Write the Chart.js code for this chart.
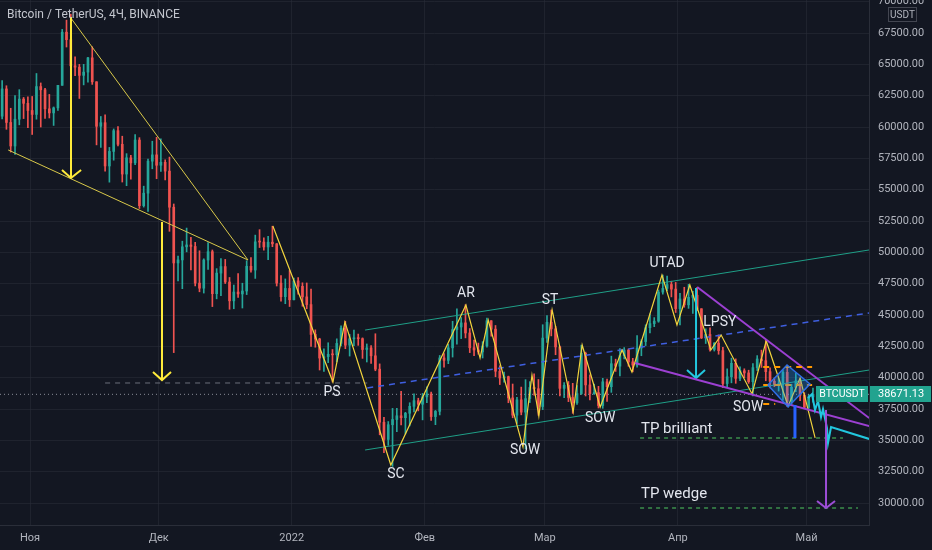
<!DOCTYPE html>
<html><head><meta charset="utf-8">
<script src="https://cdn.jsdelivr.net/npm/chart.js@4.4.1/dist/chart.umd.min.js"></script>
<style>html,body{margin:0;padding:0;background:#131722;overflow:hidden}#wrap{width:932px;height:550px;position:relative}</style>
</head><body><div id="wrap"><canvas id="c"></canvas></div>
<script>
// ---------- DATA (daily candles, BTCUSDT) ----------
const firstDate = '2021-10-25';
const opens = [60861,63039,60363,58483,60622,62227,61889,
61318,61004,63226,62970,61452,61125,61527,63326,67566,66971,64882,64774,64122,64380,65519,63606,60058,60344,56891,58052,59707,58622,56247,57541,57138,58960,53726,54721,57274,57776,
56950,57184,56480,53601,49152,49396,50441,50588,50471,47545,47140,49389,50053,46702,48343,48864,47632,46131,46834,46681,46914,48889,48588,50838,50821,50429,50810,50679,47543,46464,47120,
46216,47722,47286,46446,45833,43451,43082,41566,41680,41864,41822,42735,43949,42591,43099,43177,43113,42250,42375,41744,40680,36445,35071,36244,36660,36958,36809,37160,37716,38166,37881,
38466,38694,36896,37311,41574,41382,42380,43839,44042,44372,43566,42388,42210,42054,42535,44544,43873,40515,39974,40079,38386,37008,38230,37250,38328,39219,39116,37699,
43160,44421,43892,42454,39148,39397,38420,37988,38730,41941,39422,38730,38807,37777,39671,39280,41114,40917,41757,42201,41262,41002,42364,42882,43991,44313,44511,46827,47122,47434,47067,
45510,46283,45811,46407,46580,45497,43170,43444,42252,42753,42158,39530,40074,41147,39942,40552,40378,39678,40801,41493,41358,40480,39709,39441,39450,40427,38112,39235,39742,38596,
37630,38468];
const highs = [63710,63293,61496,62499,62980,62359,62405,
62437,64270,63516,63086,62599,61600,63286,67789,68530,69000,65600,65000,65000,65550,66401,63617,60840,60976,58373,59846,60029,59266,57875,57735,59398,59150,55280,57445,58865,59176,
59053,57375,57600,53859,49699,50891,51936,51200,50797,50125,49485,50777,50189,48700,49500,49436,47995,47392,48300,47537,49328,49576,51375,51810,51156,51280,52088,50704,48139,47879,48548,
47954,47990,47570,47557,47070,43816,43145,42300,42786,42248,43100,44135,44500,43448,43800,43479,43176,42691,42559,43505,41100,36835,36499,37550,37545,38919,37234,38000,38720,38359,38744,
39265,38855,37387,41772,41913,42656,44500,45492,44799,45821,43920,43000,42760,42876,44751,44549,44164,40959,40444,40125,39494,38429,39249,39843,39683,40300,39855,44225,
44949,45400,44101,42527,39613,39693,39547,39362,42594,42039,40236,39486,39310,39947,39887,41718,41478,42325,42400,42296,41544,43361,43025,44220,45094,44792,46999,48189,48096,47700,47600,
46720,47213,47444,46890,47200,45507,43900,43970,42800,43410,42414,40699,41561,41500,40870,40709,40595,41116,41760,42199,42976,40795,39980,39940,40617,40797,39474,40372,39925,38795,
38675,39167];
const lows = [60650,59817,58000,57820,60174,60673,59945,
59405,60624,60000,60677,60721,60125,61322,63326,66382,62822,64100,62278,63360,63576,63400,58574,58373,56474,55600,57353,58486,55610,55317,55837,57000,53500,53610,53256,56666,55875,
56458,55777,51680,42000,47727,47100,50039,48600,47320,46852,46751,48638,45672,46290,46547,47511,45456,45500,46406,45558,46630,48421,47920,50384,50171,49412,50449,47313,46096,45900,45678,
46208,46654,45696,45500,42500,42430,40611,40501,41200,39650,41268,42528,42311,41725,42555,42581,41540,41250,41138,40553,35440,34008,34601,32917,35701,36234,35507,36155,37268,37351,36632,
38000,36586,36250,37026,40843,41116,41645,42666,43117,43174,42000,41748,41870,41570,42427,43307,40073,39450,39639,38000,36800,36350,37036,34322,38014,38600,37000,37450,
42809,43334,41832,38550,38407,38088,37155,37867,38656,38539,38223,38660,37578,37555,38098,38828,40500,40135,41499,40911,40467,40840,41751,42560,43579,44071,44422,46663,46950,46445,45200,
44200,45620,45530,45118,45353,43121,42727,42107,42125,41868,39200,39254,39588,39551,39766,39991,39546,38536,40571,40820,39751,39177,39285,38929,38200,37702,37881,38881,38175,37578,
37386,38052];
const closes = [63039,60363,58483,60622,62227,61889,61318,
61004,63226,62970,61452,61125,61527,63326,67566,66971,64882,64774,64122,64380,65519,63606,60058,60344,56891,58052,59707,58622,56247,57541,57138,58960,53726,54721,57274,57776,56950,
57184,56480,53601,49152,49396,50441,50588,50471,47545,47140,49389,50053,46702,48343,48864,47632,46131,46834,46681,46914,48889,48588,50838,50821,50429,50810,50679,47543,46464,47120,46216,
47722,47286,46446,45833,43451,43082,41566,41680,41864,41822,42735,43949,42591,43099,43177,43113,42250,42375,41744,40680,36445,35071,36244,36660,36958,36809,37160,37716,38166,37881,38466,
38694,36896,37311,41574,41382,42380,43839,44042,44372,43566,42388,42210,42054,42535,44544,43873,40515,39974,40079,38386,37008,38230,37250,38328,39219,39116,37699,43160,
44421,43892,42454,39148,39397,38420,37988,38730,41941,39422,38730,38807,37777,39671,39280,41114,40917,41757,42201,41262,41002,42364,42882,43991,44313,44511,46827,47122,47434,47067,45510,
46283,45811,46407,46580,45497,43170,43444,42252,42753,42158,39530,40074,41147,39942,40552,40378,39678,40801,41493,41358,40480,39709,39441,39450,40427,38112,39235,39742,38596,37630,
38468,38671.13];
const lastPrice = 38671.13;

// x axis: days since 2021-11-01
const monthTicks = [0, 30, 61, 92, 120, 151, 181];
const monthLabels = ['Ноя', 'Дек', '2022', 'Фев', 'Мар', 'Апр', 'Май'];
const priceTicks = [30000,32500,35000,37500,40000,42500,45000,47500,50000,52500,55000,57500,60000,62500,65000,67500,70000];

// ---------- drawings (day, price) ----------
const wedgeUpper = [[9.3,68800],[50.8,49390]];
const wedgeLower = [[-5.1,58170],[50.8,49390]];
const arrowA = [[9.55,68780],[9.55,55930]];
const arrowAHead = [[7.45,56570],[9.55,55930],[11.9,56570]];
const arrowB = [[30.76,52420],[30.76,39810]];
const arrowBHead = [[28.66,40450],[30.76,39810],[32.86,40450]];
const psLevel = [[17.5,39575],[78.6,39575]];
const zigzag = [[56.6,52100],[70.6,39655],[73.4,44440],[84.1,33030],[101.6,45800],[104.9,41570],[106.8,44600],[114.9,34470],[117.0,40210],[118.6,36940],[121.7,45400],[126.6,37260],[128.7,42610],[132.9,37660],[138.0,42210],[140.3,40450],[147.3,48190],[150.8,44200],[153.8,47390],[158.7,42210],[161.1,43400],[168.3,38700],[171.6,42930],[176.7,37740],[179.5,39970],[183.0,35190]];
const channelUpper = [[78.1,43800],[195.6,50190]];
const channelLower = [[78.1,34230],[195.6,40610]];
const channelMid = [[78.6,39180],[195.6,45160]];
const cyanArrow = [[155.24,47150],[155.24,39970]];
const cyanArrowHead = [[153.14,40610],[155.24,39970],[157.34,40610]];
const purpleUpper = [[155.5,47235],[195.6,36780]];
const purpleLower = [[141.0,41170],[195.6,36140]];
const purpleArrow = [[185.54,37420],[185.54,29600]];
const purpleArrowHead = [[183.44,30160],[185.54,29600],[187.64,30160]];
const blueBar = [[178.3,37820],[178.3,35190]];
const diamond = [[172.0,39415],[176.45,41010],[181.8,39495],[176.7,37660],[172.0,39415]];
const orange1 = [[170.9,40850],[182.3,40850]];
const orange2 = [[170.9,39415],[182.3,39415]];
const orange3 = [[170.9,37900],[173.7,37900]];
const cyanPath = [[181.34,38380],[182.28,38700],[182.98,37420],[183.68,38140],[184.38,36860],[184.84,37500],[185.77,35980],[186.01,34790],[186.71,36060],[195.6,35110]];
const tpBrilliant = [[142.2,35190],[189.5,35190]];
const tpWedge = [[142.2,29600],[193.0,29600]];
const lastPriceLine = [[-7,lastPrice],[195.6,lastPrice]];

const wyckoffLabels = [
  {t:'PS', d:70.4, p:38780}, {t:'SC', d:85.3, p:32310}, {t:'AR', d:101.6, p:46680},
  {t:'SOW', d:115.4, p:34150}, {t:'ST', d:121.2, p:46120}, {t:'SOW', d:132.9, p:36780},
  {t:'UTAD', d:148.5, p:49070}, {t:'LPSY', d:160.8, p:44440}, {t:'SOW', d:167.4, p:37660}
];
const tpLabels = [{t:'TP brilliant', d:142.4, p:35900}, {t:'TP wedge', d:142.4, p:30720}];

// ---------- build ----------
const dayOf = s => { const [Y,M,D] = s.split('-').map(Number); return (Date.UTC(Y,M-1,D) - Date.UTC(2021,10,1)) / 86400000; };
const startDay = dayOf(firstDate);
const candleX = closes.map((_, i) => startDay + i + 0.5);
const candleColor = closes.map((c, i) => c >= opens[i] ? '#26a69a' : '#ef5350');

function seg(pts, color, width, dash, extra) {
  return Object.assign({
    type: 'line', data: pts.map(([x, y]) => ({x, y})), borderColor: color, borderWidth: width,
    borderDash: dash || [], pointRadius: 0, pointHoverRadius: 0, fill: false, tension: 0, order: 0
  }, extra || {});
}

const datasets = [
  seg(purpleArrow, '#9c4dd6', 2), seg(purpleArrowHead, '#9c4dd6', 2),
  seg(cyanPath, '#22c7de', 2),
  seg(blueBar, '#2962ff', 3),
  seg(diamond, '#2f6fe8', 1.5, [], {fill: 'shape', backgroundColor: 'rgba(33,150,243,0.30)'}),
  seg(orange1, '#ff9800', 2, [6,5]), seg(orange2, '#ff9800', 2, [6,5]), seg(orange3, '#ff9800', 2, [6,5]),
  seg(purpleUpper, '#9c40d2', 2), seg(purpleLower, '#9c40d2', 2),
  seg(cyanArrow, '#22c7de', 2), seg(cyanArrowHead, '#22c7de', 2),
  seg(zigzag, '#f2d43d', 1.2),
  seg(arrowA, '#ffeb3b', 2), seg(arrowAHead, '#ffeb3b', 2),
  seg(arrowB, '#ffeb3b', 2), seg(arrowBHead, '#ffeb3b', 2),
  seg(wedgeUpper, '#d9c94a', 1), seg(wedgeLower, '#d9c94a', 1),
  seg(channelUpper, '#1f9f87', 1), seg(channelLower, '#1f9f87', 1),
  seg(channelMid, '#3f5fe0', 1.5, [6,5]),
  seg(psLevel, '#6c707b', 1, [5,5]),
  seg(tpBrilliant, '#3c8f4c', 1.5, [4,4]), seg(tpWedge, '#3c8f4c', 1.5, [4,4]),
  seg(lastPriceLine, '#8a8e98', 1, [1,3], {order: 50}),
  { type: 'bar', data: candleX.map((x, i) => ({x, y: [opens[i], closes[i]]})), backgroundColor: candleColor,
    barThickness: 2, grouped: false, minBarLength: 1, order: 100 },
  { type: 'bar', data: candleX.map((x, i) => ({x, y: [lows[i], highs[i]]})), backgroundColor: candleColor,
    barThickness: 1, grouped: false, order: 101 }
];

const overlay = {
  id: 'overlay',
  afterDatasetsDraw(chart) {
    const {ctx, scales: {x, y}} = chart;
    ctx.save();
    ctx.fillStyle = '#e3e6ee';
    ctx.font = '14px Roboto';
    ctx.textAlign = 'center'; ctx.textBaseline = 'middle';
    wyckoffLabels.forEach(l => ctx.fillText(l.t, x.getPixelForValue(l.d), y.getPixelForValue(l.p)));
    ctx.font = '15px Roboto'; ctx.textAlign = 'left';
    tpLabels.forEach(l => ctx.fillText(l.t, x.getPixelForValue(l.d), y.getPixelForValue(l.p)));
    ctx.restore();
  },
  afterDraw(chart) {
    const {ctx, scales: {y}, chartArea} = chart;
    ctx.save();
    ctx.fillStyle = '#c3c6ce'; ctx.font = '12px Roboto'; ctx.textAlign = 'left'; ctx.textBaseline = 'middle';
    ctx.fillText('Bitcoin / TetherUS, 4Ч, BINANCE', 7, 15);
    ctx.strokeStyle = '#434651'; ctx.lineWidth = 1;
    ctx.strokeRect(888.5, 7.5, 28, 14);
    ctx.fillStyle = '#b2b5be'; ctx.font = '10px Roboto'; ctx.textAlign = 'center';
    ctx.fillText('USDT', 902.5, 15);
    const yp = Math.round(y.getPixelForValue(lastPrice));
    ctx.fillStyle = '#22a38f';
    ctx.fillRect(816, yp - 8, 52, 16);
    ctx.fillRect(chartArea.right + 1, yp - 8, 932 - chartArea.right - 2, 16);
    ctx.fillStyle = '#ffffff';
    ctx.font = '10.5px Roboto'; ctx.textAlign = 'center';
    ctx.fillText('BTCUSDT', 842, yp + 0.5);
    ctx.font = '11px Roboto'; ctx.textAlign = 'left';
    ctx.fillText(lastPrice.toFixed(2), chartArea.right + 9, yp + 0.5);
    ctx.restore();
  }
};

new Chart(document.getElementById('c'), {
  type: 'bar',
  data: { datasets },
  plugins: [overlay],
  options: {
    animation: false, responsive: true, maintainAspectRatio: false,
    layout: { padding: 0 },
    events: [],
    plugins: { legend: { display: false }, tooltip: { enabled: false } },
    scales: {
      x: {
        type: 'linear', min: -7, max: 195.56, offset: false,
        grid: { color: 'rgba(42,46,57,0.55)', offset: false, drawTicks: false },
        border: { color: '#2a2e39' },
        afterBuildTicks: s => { s.ticks = monthTicks.map(v => ({value: v})); },
        afterFit: s => { s.height = 25; s.paddingLeft = 0; s.paddingRight = 0; },
        ticks: { autoSkip: false, maxRotation: 0, padding: 7, color: '#b2b5be', font: { family: 'Roboto', size: 11 },
                 callback: v => monthLabels[monthTicks.indexOf(v)] }
      },
      y: {
        type: 'linear', position: 'right', min: 28245, max: 70134,
        grid: { color: 'rgba(42,46,57,0.55)', drawTicks: false },
        border: { color: '#2a2e39' },
        afterBuildTicks: s => { s.ticks = priceTicks.map(v => ({value: v})); },
        afterFit: s => { s.width = 63; s.paddingTop = 0; s.paddingBottom = 0; },
        ticks: { padding: 9, color: '#b2b5be', font: { family: 'Roboto', size: 11 },
                 callback: v => Number(v).toFixed(2) }
      }
    }
  }
});
</script></body></html>
